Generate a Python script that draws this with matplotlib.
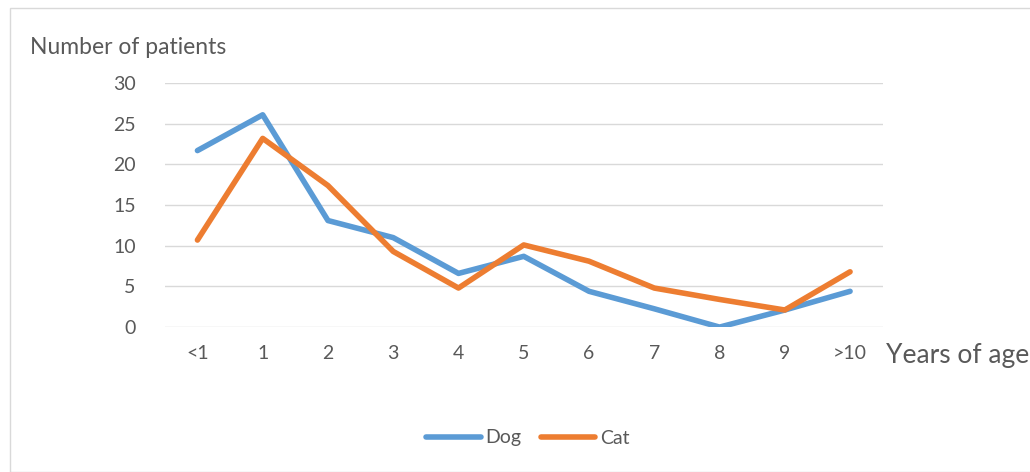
import matplotlib.pyplot as plt
from matplotlib.patches import Rectangle

# age groups and patient counts
ages = ['<1', '1', '2', '3', '4', '5', '6', '7', '8', '9', '>10']
dog = [21.7, 26.1, 13.1, 11.0, 6.6, 8.7, 4.4, 2.25, 0.0, 2.1, 4.4]
cat = [10.7, 23.2, 17.4, 9.3, 4.8, 10.1, 8.1, 4.8, 3.4, 2.1, 6.8]

plt.rcParams['font.family'] = ['Lato', 'DejaVu Sans']
grey = '#595959'

fig = plt.figure(figsize=(10.30, 4.72), dpi=100)
# chart border
fig.patches.append(Rectangle((10 / 1030, 0), 1.0, 1 - 8 / 472, transform=fig.transFigure,
                             fill=False, edgecolor='#D9D9D9', linewidth=1))

ax = fig.add_axes([0.160, 0.307, 0.697, 0.517])
x = range(len(ages))
ax.plot(x, dog, color='#5B9BD5', linewidth=4, solid_capstyle='round', label='Dog')
ax.plot(x, cat, color='#ED7D31', linewidth=4, solid_capstyle='round', label='Cat')

ax.set_xlim(-0.5, len(ages) - 0.5)
ax.set_ylim(0, 30)
ax.set_yticks(range(0, 31, 5))
ax.set_xticks(list(x))
ax.set_xticklabels(ages)
ax.grid(axis='y', color='#D9D9D9', linewidth=1)
ax.set_axisbelow(True)
for s in ax.spines.values():
    s.set_visible(False)
ax.tick_params(length=0, labelsize=14, colors=grey)
ax.tick_params(axis='x', pad=13)
ax.tick_params(axis='y', pad=21)

fig.text(30 / 1030, 1 - 48 / 472, 'Number of patients', fontsize=16.5, color=grey, va='center')
fig.text(886 / 1030, 1 - 356 / 472, 'Years of age', fontsize=19, color=grey, va='center')

fig.legend(loc='center', bbox_to_anchor=(528 / 1030, 1 - 438 / 472), ncol=2, frameon=False,
           fontsize=14, handlelength=2.8, handletextpad=0.25, columnspacing=1.0,
           labelcolor=grey)

fig.savefig('out.png', dpi=100)
